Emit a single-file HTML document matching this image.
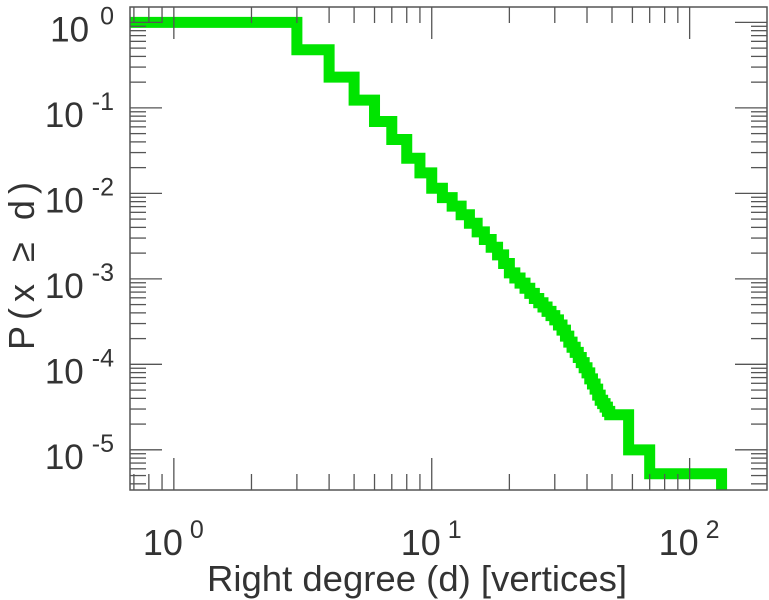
<!DOCTYPE html>
<html><head><meta charset="utf-8"><style>
html,body{margin:0;padding:0;background:#fff;}
svg{display:block;font-family:"Liberation Sans",sans-serif;}
</style></head><body>
<svg id="chart" width="769" height="600" viewBox="0 0 769 600"></svg>
<script>
// data: degree values and log10 of complementary cumulative probability
const degrees = [0.5,3,4,5,6,7,8,9,10,11,12,13,14,15,16,17,18,19,20,21,22,23,24,25,26,27,28,29,30,31,32,33,34,35,36,37,38,39,40,41,42,43,44,45,46,47,48,49,58,70];
const logP = [0,-0.32,-0.64,-0.91,-1.16,-1.37,-1.59,-1.76,-1.94,-2.05,-2.15,-2.25,-2.35,-2.45,-2.54,-2.63,-2.72,-2.82,-2.93,-2.99,-3.05,-3.11,-3.17,-3.23,-3.28,-3.33,-3.38,-3.43,-3.48,-3.54,-3.60,-3.67,-3.74,-3.80,-3.86,-3.92,-3.98,-4.04,-4.10,-4.17,-4.23,-4.29,-4.36,-4.42,-4.46,-4.50,-4.55,-4.59,-5.0,-5.28];
const maxDegree = 133;
const xTickExps = [0,1,2];
const yTickExps = [0,-1,-2,-3,-4,-5];

const NS = "http://www.w3.org/2000/svg";
const svg = document.getElementById('chart');
const L=130,R=767,T=7,B=490;
const xMin=-0.17,xMax=2.30,yMin=-5.47,yMax=0.18;
const X = v => L + (Math.log10(v)-xMin)/(xMax-xMin)*(R-L);
const Xl = lv => L + (lv-xMin)/(xMax-xMin)*(R-L);
const Yl = lv => B - (lv-yMin)/(yMax-yMin)*(B-T);
function mk(tag, attrs){const e=document.createElementNS(NS,tag);for(const k in attrs)e.setAttribute(k,attrs[k]);svg.appendChild(e);return e;}

const defs=mk('defs',{});
const cp=document.createElementNS(NS,'clipPath');cp.setAttribute('id','clip');
const cr=document.createElementNS(NS,'rect');cr.setAttribute('x',L);cr.setAttribute('y',T);cr.setAttribute('width',R-L);cr.setAttribute('height',B-T);
cp.appendChild(cr);defs.appendChild(cp);

let d = `M${X(degrees[0])},${Yl(logP[0])}`;
for(let i=1;i<degrees.length;i++){
  d += ` H${X(degrees[i])} V${Yl(logP[i])}`;
}
d += ` H${X(maxDegree)} V${B+10}`;
const line = mk('path',{d:d,fill:'none',stroke:'#00e400','stroke-width':11,'clip-path':'url(#clip)'});



const tg = mk('g',{stroke:'#555','stroke-width':1.3});


function tick(x1,y1,x2,y2){const e=document.createElementNS(NS,'line');e.setAttribute('x1',x1);e.setAttribute('y1',y1);e.setAttribute('x2',x2);e.setAttribute('y2',y2);tg.appendChild(e);}
for(let e=-1;e<=2;e++){
  for(let m=1;m<10;m++){
    const lv=e+Math.log10(m); if(lv<xMin||lv>xMax) continue;
    const x=Xl(lv), len = m===1?32:16;
    tick(x,T,x,T+len); tick(x,B,x,B-len);
  }
}
for(let e=-6;e<=0;e++){
  for(let m=1;m<10;m++){
    const lv=e+Math.log10(m); if(lv<yMin||lv>yMax) continue;
    const y=Yl(lv), len = m===1?32:16;
    tick(L,y,L+len,y); tick(R,y,R-len,y);
  }
}
const frame = mk('rect',{x:L,y:T,width:R-L,height:B-T,fill:'none',stroke:'#555','stroke-width':1.5});



xTickExps.forEach(e=>{
  const t=mk('text',{x:Xl(e)-31,y:555,'font-size':36,fill:'#333'});
  
  
  t.innerHTML=`10<tspan dx="7" dy="-17" font-size="25">${e}</tspan>`;
});
yTickExps.forEach(e=>{
  const t=mk('text',{x:114,y:Yl(e)+19,'font-size':35,fill:'#333','text-anchor':'end'});
  
  
  t.innerHTML=`10<tspan dx="${e===0?11:8}" dy="-17" font-size="25">${e}</tspan>`;
});

const xt=mk('text',{x:417,y:591,'text-anchor':'middle','font-size':36,fill:'#333',textLength:420,lengthAdjust:'spacingAndGlyphs'});


xt.textContent='Right degree (d) [vertices]';
const yt=mk('text',{x:0,y:0,'text-anchor':'middle','font-size':36,fill:'#333',textLength:168,transform:'translate(34,266) rotate(-90)'});


yt.textContent='P(x \u2265 d)';
</script>
</body></html>
